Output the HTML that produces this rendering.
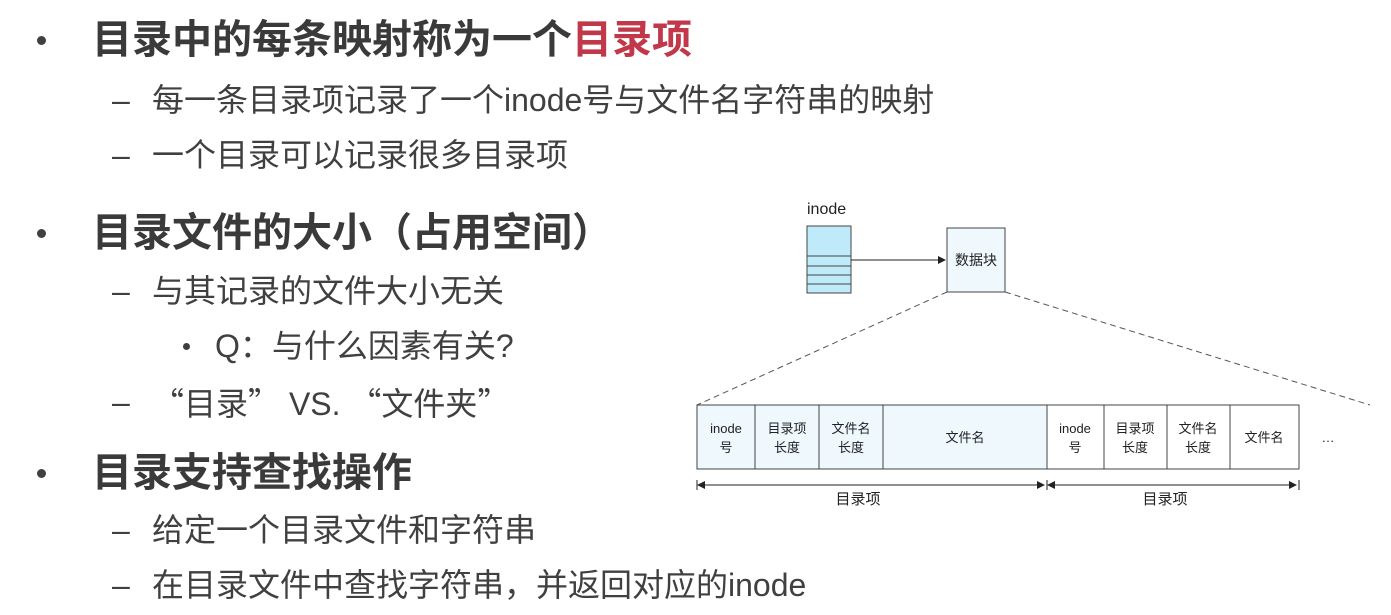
<!DOCTYPE html>
<html><head><meta charset="utf-8"><style>
body{margin:0;width:1391px;height:615px;background:#fff;position:relative;overflow:hidden;font-family:"Liberation Sans","Noto Sans CJK SC",sans-serif;color:#404040}
.t{position:absolute;white-space:nowrap;line-height:1}
.l1{font-size:40px;font-weight:bold;color:#3a3a3a}
.l2{font-size:32px}
.q{font-family:"Noto Sans CJK SC",sans-serif}
.b{position:absolute;width:9px;height:9px;border-radius:50%;background:#404040}
</style></head><body>
<div class="b" style="left:37px;top:36px"></div>
<div class="t l1" style="left:92px;top:20px">目录中的每条映射称为一个<span style="color:#c0384a">目录项</span></div>
<div class="t l2" style="left:112px;top:84px">–</div>
<div class="t l2" style="left:152px;top:84px">每一条目录项记录了一个inode号与文件名字符串的映射</div>
<div class="t l2" style="left:112px;top:139px">–</div>
<div class="t l2" style="left:152px;top:139px">一个目录可以记录很多目录项</div>

<div class="b" style="left:37px;top:229px"></div>
<div class="t l1" style="left:92px;top:213px">目录文件的大小（占用空间）</div>
<div class="t l2" style="left:112px;top:275px">–</div>
<div class="t l2" style="left:152px;top:275px">与其记录的文件大小无关</div>
<div class="b" style="left:183px;top:343px;width:7px;height:7px"></div>
<div class="t l2" style="left:215px;top:330px">Q：与什么因素有关?</div>
<div class="t l2" style="left:112px;top:386px">–</div>
<div class="t l2" style="left:152px;top:386px"><span class="q">“</span>目录<span class="q">”</span> VS. <span class="q">“</span>文件夹<span class="q">”</span></div>

<div class="b" style="left:37px;top:469px"></div>
<div class="t l1" style="left:92px;top:453px">目录支持查找操作</div>
<div class="t l2" style="left:112px;top:514px">–</div>
<div class="t l2" style="left:152px;top:514px">给定一个目录文件和字符串</div>
<div class="t l2" style="left:112px;top:569px">–</div>
<div class="t l2" style="left:152px;top:569px">在目录文件中查找字符串，并返回对应的inode</div>

<svg style="position:absolute;left:0;top:0" width="1391" height="615" font-family="Liberation Sans, Noto Sans CJK SC, sans-serif" font-size="14" fill="#222">
<defs><marker id="a" markerWidth="8" markerHeight="8" refX="7" refY="4" orient="auto"><path d="M0,0L8,4L0,8z" fill="#222"/></marker></defs>
<text x="807" y="214" font-size="16" fill="#222">inode</text>
<rect x="807" y="226" width="44" height="67" fill="#bfeaf9" stroke="#444"/>
<g stroke="#444"><line x1="807" y1="256" x2="851" y2="256"/><line x1="807" y1="266" x2="851" y2="266"/><line x1="807" y1="275" x2="851" y2="275"/><line x1="807" y1="284" x2="851" y2="284"/></g>
<line x1="851" y1="260" x2="945" y2="260" stroke="#222" marker-end="url(#a)"/>
<rect x="947" y="228" width="58" height="64" fill="#eef8fd" stroke="#444"/>
<text x="976" y="265" text-anchor="middle">数据块</text>
<g stroke="#555" stroke-dasharray="6,4"><line x1="947" y1="292" x2="697" y2="405"/><line x1="1005" y1="292" x2="1370" y2="405"/></g>
<rect x="697" y="405" width="350" height="64" fill="#eef8fd" stroke="#444"/>
<rect x="1047" y="405" width="252" height="64" fill="#fff" stroke="#444"/>
<g stroke="#444"><line x1="755" y1="405" x2="755" y2="469"/><line x1="819" y1="405" x2="819" y2="469"/><line x1="883" y1="405" x2="883" y2="469"/><line x1="1104" y1="405" x2="1104" y2="469"/><line x1="1167" y1="405" x2="1167" y2="469"/><line x1="1230" y1="405" x2="1230" y2="469"/></g>
<g text-anchor="middle" font-size="13">
<text x="726" y="433">inode</text><text x="726" y="452">号</text>
<text x="787" y="433">目录项</text><text x="787" y="452">长度</text>
<text x="851" y="433">文件名</text><text x="851" y="452">长度</text>
<text x="965" y="442">文件名</text>
<text x="1075" y="433">inode</text><text x="1075" y="452">号</text>
<text x="1135" y="433">目录项</text><text x="1135" y="452">长度</text>
<text x="1198" y="433">文件名</text><text x="1198" y="452">长度</text>
<text x="1264" y="442">文件名</text>
<text x="1328" y="442">…</text>
</g>
<g stroke="#222"><line x1="697" y1="480" x2="697" y2="490"/><line x1="1047" y1="480" x2="1047" y2="490"/><line x1="1299" y1="480" x2="1299" y2="490"/></g>
<line x1="700" y1="485" x2="1044" y2="485" stroke="#222" marker-end="url(#a)"/>
<line x1="1050" y1="485" x2="1296" y2="485" stroke="#222" marker-end="url(#a)"/>
<path d="M697,485l8,-4v8z M1047,485l8,-4v8z" fill="#222"/>
<text x="858" y="504" text-anchor="middle" font-size="15">目录项</text>
<text x="1165" y="504" text-anchor="middle" font-size="15">目录项</text>
</svg>
</body></html>
